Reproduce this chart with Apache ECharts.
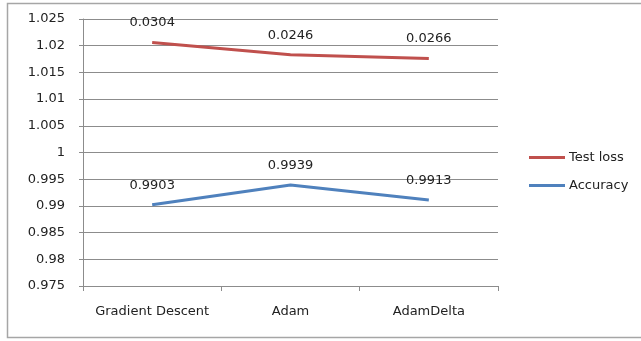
<!DOCTYPE html>
<html>
<head>
<meta charset="utf-8">
<script src="https://cdn.jsdelivr.net/npm/echarts@6/dist/echarts.min.js"></script>
<style>
  html, body { margin: 0; padding: 0; background: #fff; }
  #chart { width: 641px; height: 341px; }
</style>
</head>
<body>
<div id="chart"></div>
<script>
// data
const categories = ['Gradient Descent', 'Adam', 'AdamDelta'];
const testLossPos = [1.0206, 1.0183, 1.0176];   // where the red line sits on the axis
const testLossText = ['0.0304', '0.0246', '0.0266']; // what its labels say
const accuracy = [0.9902, 0.9939, 0.9911];
const accuracyText = ['0.9903', '0.9939', '0.9913'];
const yTicks = ['0.975', '0.98', '0.985', '0.99', '0.995', '1', '1.005', '1.01', '1.015', '1.02', '1.025'];

const font = 'DejaVu Sans';
const gray = '#8c8c8c';
const fs = 13;

const myChart = echarts.init(document.getElementById('chart'));

function labelSeries(texts) {
  return {
    show: true,
    position: 'top',
    distance: 13,
    color: '#222',
    fontFamily: font,
    fontSize: fs,
    formatter: p => texts[p.dataIndex]
  };
}

const option = {
  animation: false,
  textStyle: { fontFamily: font },
  graphic: [{
    type: 'rect',
    shape: { x: 7.5, y: 3.5, width: 700, height: 334 },
    style: { fill: 'none', stroke: '#a6a6a6', lineWidth: 1.5 },
    silent: true
  }],
  legend: {
    orient: 'vertical',
    left: 524,
    top: 146,
    itemWidth: 36,
    itemHeight: 3,
    itemGap: 15,
    icon: 'rect',
    textStyle: { color: '#222', fontSize: fs, fontFamily: font, padding: [0, 0, 0, -1] },
    data: ['Test loss', 'Accuracy']
  },
  grid: { left: 83, right: 143, top: 19, bottom: 55 },
  xAxis: {
    type: 'category',
    data: categories,
    boundaryGap: true,
    axisLine: { lineStyle: { color: gray, width: 1 } },
    axisTick: { show: true, length: 5, interval: 0, lineStyle: { color: gray } },
    axisLabel: { color: '#222', fontSize: fs, margin: 19, interval: 0, fontFamily: font }
  },
  yAxis: {
    type: 'value',
    min: 0.975,
    max: 1.025,
    interval: 0.005,
    axisLine: { show: true, lineStyle: { color: gray, width: 1 } },
    axisTick: { show: true, length: 4, lineStyle: { color: gray } },
    splitLine: { lineStyle: { color: gray, width: 1 } },
    axisLabel: {
      color: '#222',
      fontSize: fs,
      margin: 18,
      fontFamily: font,
      formatter: (v, i) => yTicks[i]
    }
  },
  series: [
    {
      name: 'Test loss',
      type: 'line',
      data: testLossPos,
      symbol: 'circle',
      symbolSize: 0,
      color: '#c0504d',
      lineStyle: { width: 3, color: '#c0504d' },
      label: labelSeries(testLossText)
    },
    {
      name: 'Accuracy',
      type: 'line',
      data: accuracy,
      symbol: 'circle',
      symbolSize: 0,
      color: '#4f81bd',
      lineStyle: { width: 3, color: '#4f81bd' },
      label: labelSeries(accuracyText)
    }
  ]
};

myChart.setOption(option);
</script>
</body>
</html>
